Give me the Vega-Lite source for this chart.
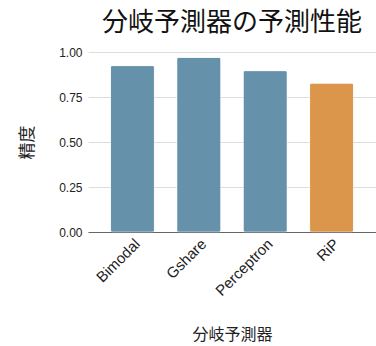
{
  "$schema": "https://vega.github.io/schema/vega-lite/v6.json",
  "autosize": "none",
  "width": 288,
  "height": 180,
  "padding": {"left": 88, "top": 52, "right": 0, "bottom": 114},
  "background": "white",
  "title": {
    "text": "分岐予測器の予測性能",
    "font": "Noto Sans CJK JP",
    "fontSize": 26,
    "fontWeight": "normal",
    "color": "#111",
    "anchor": "middle",
    "offset": 10
  },
  "data": {
    "values": [
      {"predictor": "Bimodal", "accuracy": 0.924},
      {"predictor": "Gshare", "accuracy": 0.970},
      {"predictor": "Perceptron", "accuracy": 0.896},
      {"predictor": "RiP", "accuracy": 0.826}
    ]
  },
  "mark": {"type": "bar", "cornerRadius": 2, "stroke": "#ffffff", "strokeOpacity": 0.3, "strokeWidth": 1},
  "encoding": {
    "x": {
      "field": "predictor",
      "type": "nominal",
      "sort": null,
      "title": "分岐予測器",
      "scale": {"paddingInner": 0.34, "paddingOuter": 0.34},
      "axis": {
        "labelAngle": -45,
        "labelFont": "Liberation Sans",
        "labelFontSize": 15,
        "labelColor": "#222",
        "titleFont": "Noto Sans CJK JP",
        "titleFontSize": 16,
        "titleFontWeight": "normal",
        "titleColor": "#222",
        "titlePadding": 28,
        "ticks": false,
        "domainColor": "#666",
        "labelPadding": 4
      }
    },
    "y": {
      "field": "accuracy",
      "type": "quantitative",
      "title": "精度",
      "scale": {"domain": [0, 1]},
      "axis": {
        "values": [0, 0.25, 0.5, 0.75, 1],
        "format": ".2f",
        "domain": false,
        "ticks": false,
        "gridColor": "#ddd",
        "labelFont": "Liberation Sans",
        "labelFontSize": 12,
        "labelColor": "#222",
        "labelPadding": 6,
        "titleFont": "Noto Sans CJK JP",
        "titleFontSize": 17,
        "titleFontWeight": "normal",
        "titleColor": "#222",
        "titlePadding": 22
      }
    },
    "color": {
      "condition": {"test": "datum.predictor === 'RiP'", "value": "#dc964b"},
      "value": "#6592aa"
    }
  },
  "config": {"view": {"stroke": null}}
}
